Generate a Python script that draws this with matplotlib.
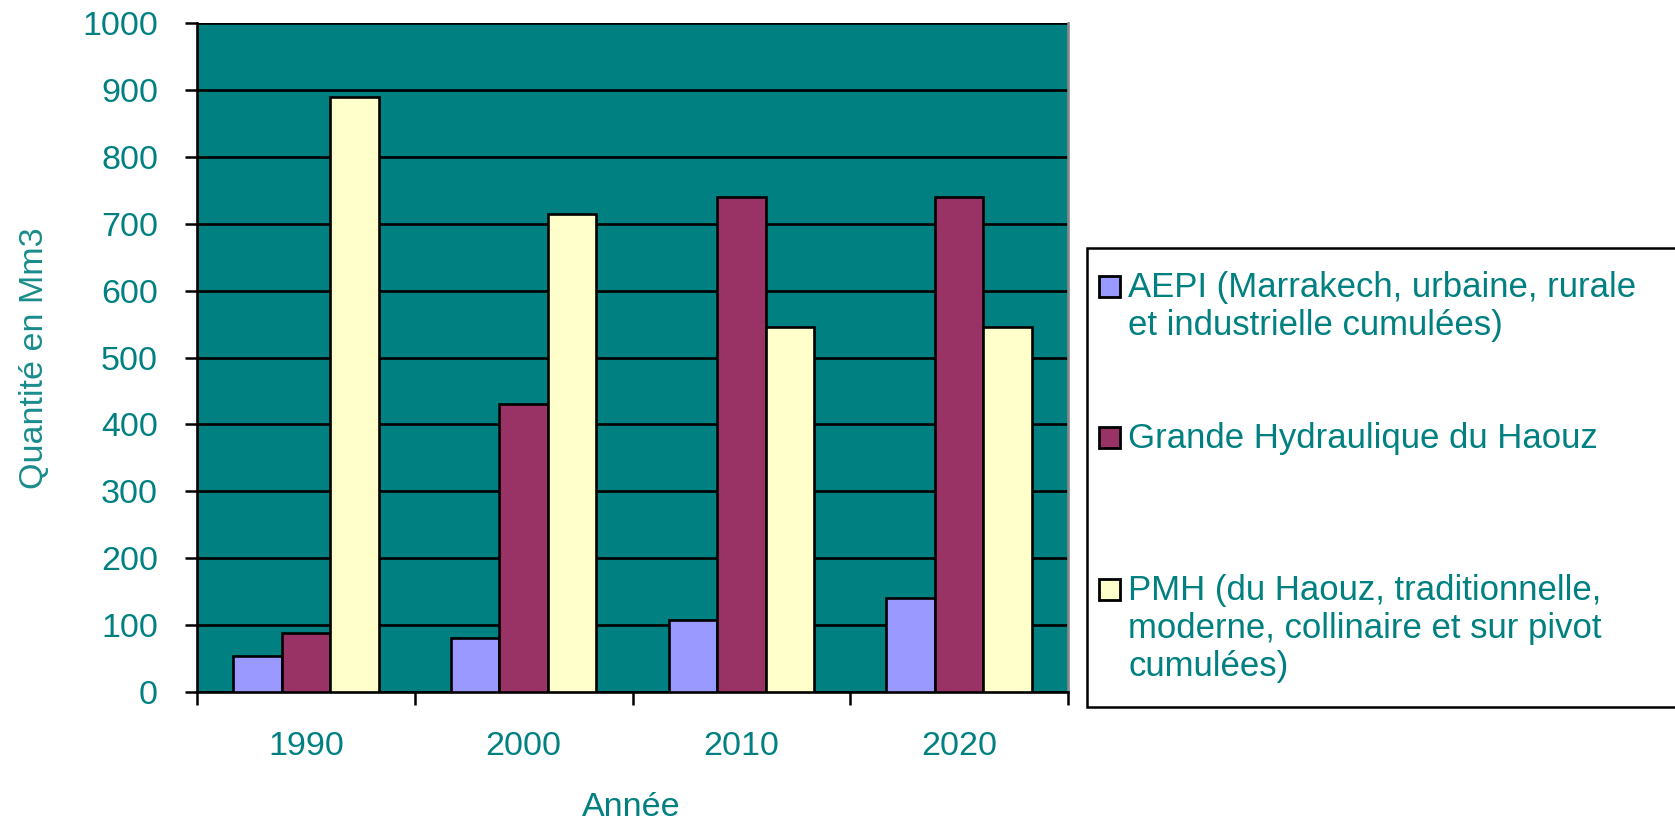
import matplotlib
matplotlib.use("Agg")
import matplotlib.pyplot as plt
import numpy as np
from matplotlib.patches import Rectangle

plt.rcParams['font.family'] = ['Liberation Sans', 'DejaVu Sans']

years = ["1990", "2000", "2010", "2020"]
series_names = [
    "AEPI (Marrakech, urbaine, rurale\net industrielle cumulées)",
    "Grande Hydraulique du Haouz",
    "PMH (du Haouz, traditionnelle,\nmoderne, collinaire et sur pivot\ncumulées)",
]
aepi = [54, 81, 108, 141]
grande = [88, 430, 740, 740]
pmh = [890, 714, 546, 546]
colors = ["#9999FF", "#993366", "#FFFFCC"]
teal = "#008080"

W, H = 1675, 825
fig = plt.figure(figsize=(W / 100, H / 100), dpi=100)
L, R, T, B = 197, 1068, 23, 692
ax = fig.add_axes([L / W, 1 - B / H, (R - L) / W, (B - T) / H])
ax.set_facecolor(teal)

x = np.arange(len(years))
bw = 0.223
for i, (vals, c) in enumerate(zip([aepi, grande, pmh], colors)):
    ax.bar(x + (i - 1) * bw, vals, bw, color=c, edgecolor="black", linewidth=1.9, zorder=3)

ax.set_xlim(-0.5, 3.5)
ax.set_ylim(0, 1000)
ax.set_yticks(np.arange(0, 1001, 100))
ax.yaxis.grid(True, color="black", linewidth=1.9, zorder=1)
ax.set_axisbelow(True)

ax.set_xticks(x)
ax.set_xticklabels(years)
ax.set_xticks(np.arange(-0.5, 3.6, 1), minor=True)
ax.tick_params(axis="x", which="major", length=0, pad=28, labelsize=24.5, labelcolor=teal)
ax.tick_params(axis="x", which="minor", length=9, width=1.8, direction="out", color="black")
ax.tick_params(axis="y", length=9, width=1.8, direction="out", labelsize=24.5, labelcolor=teal, pad=19)

for s in ["left", "bottom"]:
    ax.spines[s].set_color("black")
    ax.spines[s].set_linewidth(1.9)
ax.spines["top"].set_visible(False)
ax.spines["right"].set_color("#888888")
ax.spines["right"].set_linewidth(1.9)

fig.text(35 / W, 1 - 358 / H, "Quantité en Mm3", rotation=90, ha="center", va="center",
         fontsize=24.5, color="#1a8c8c")
fig.text(631 / W, 1 - 807 / H, "Année", ha="center", va="center", fontsize=24.5, color=teal)

# Legend (manual)
fig.patches.append(Rectangle((1087 / W, 1 - 707 / H), (1700 - 1087) / W, (707 - 248) / H,
                             transform=fig.transFigure, facecolor="white", edgecolor="black",
                             linewidth=1.8, zorder=5))
baselines = [297, 448, 600]
line_step = 38
for name, c, yb in zip(series_names, colors, baselines):
    fig.patches.append(Rectangle((1099 / W, 1 - yb / H), 21 / W, 21 / H,
                                 transform=fig.transFigure, facecolor=c, edgecolor="black",
                                 linewidth=2, zorder=6))
    for k, line in enumerate(name.split("\n")):
        fig.text(1128 / W, 1 - (yb + k * line_step) / H, line, ha="left", va="baseline",
                 fontsize=25, color=teal, zorder=7)

fig.savefig("out.png", dpi=100)
